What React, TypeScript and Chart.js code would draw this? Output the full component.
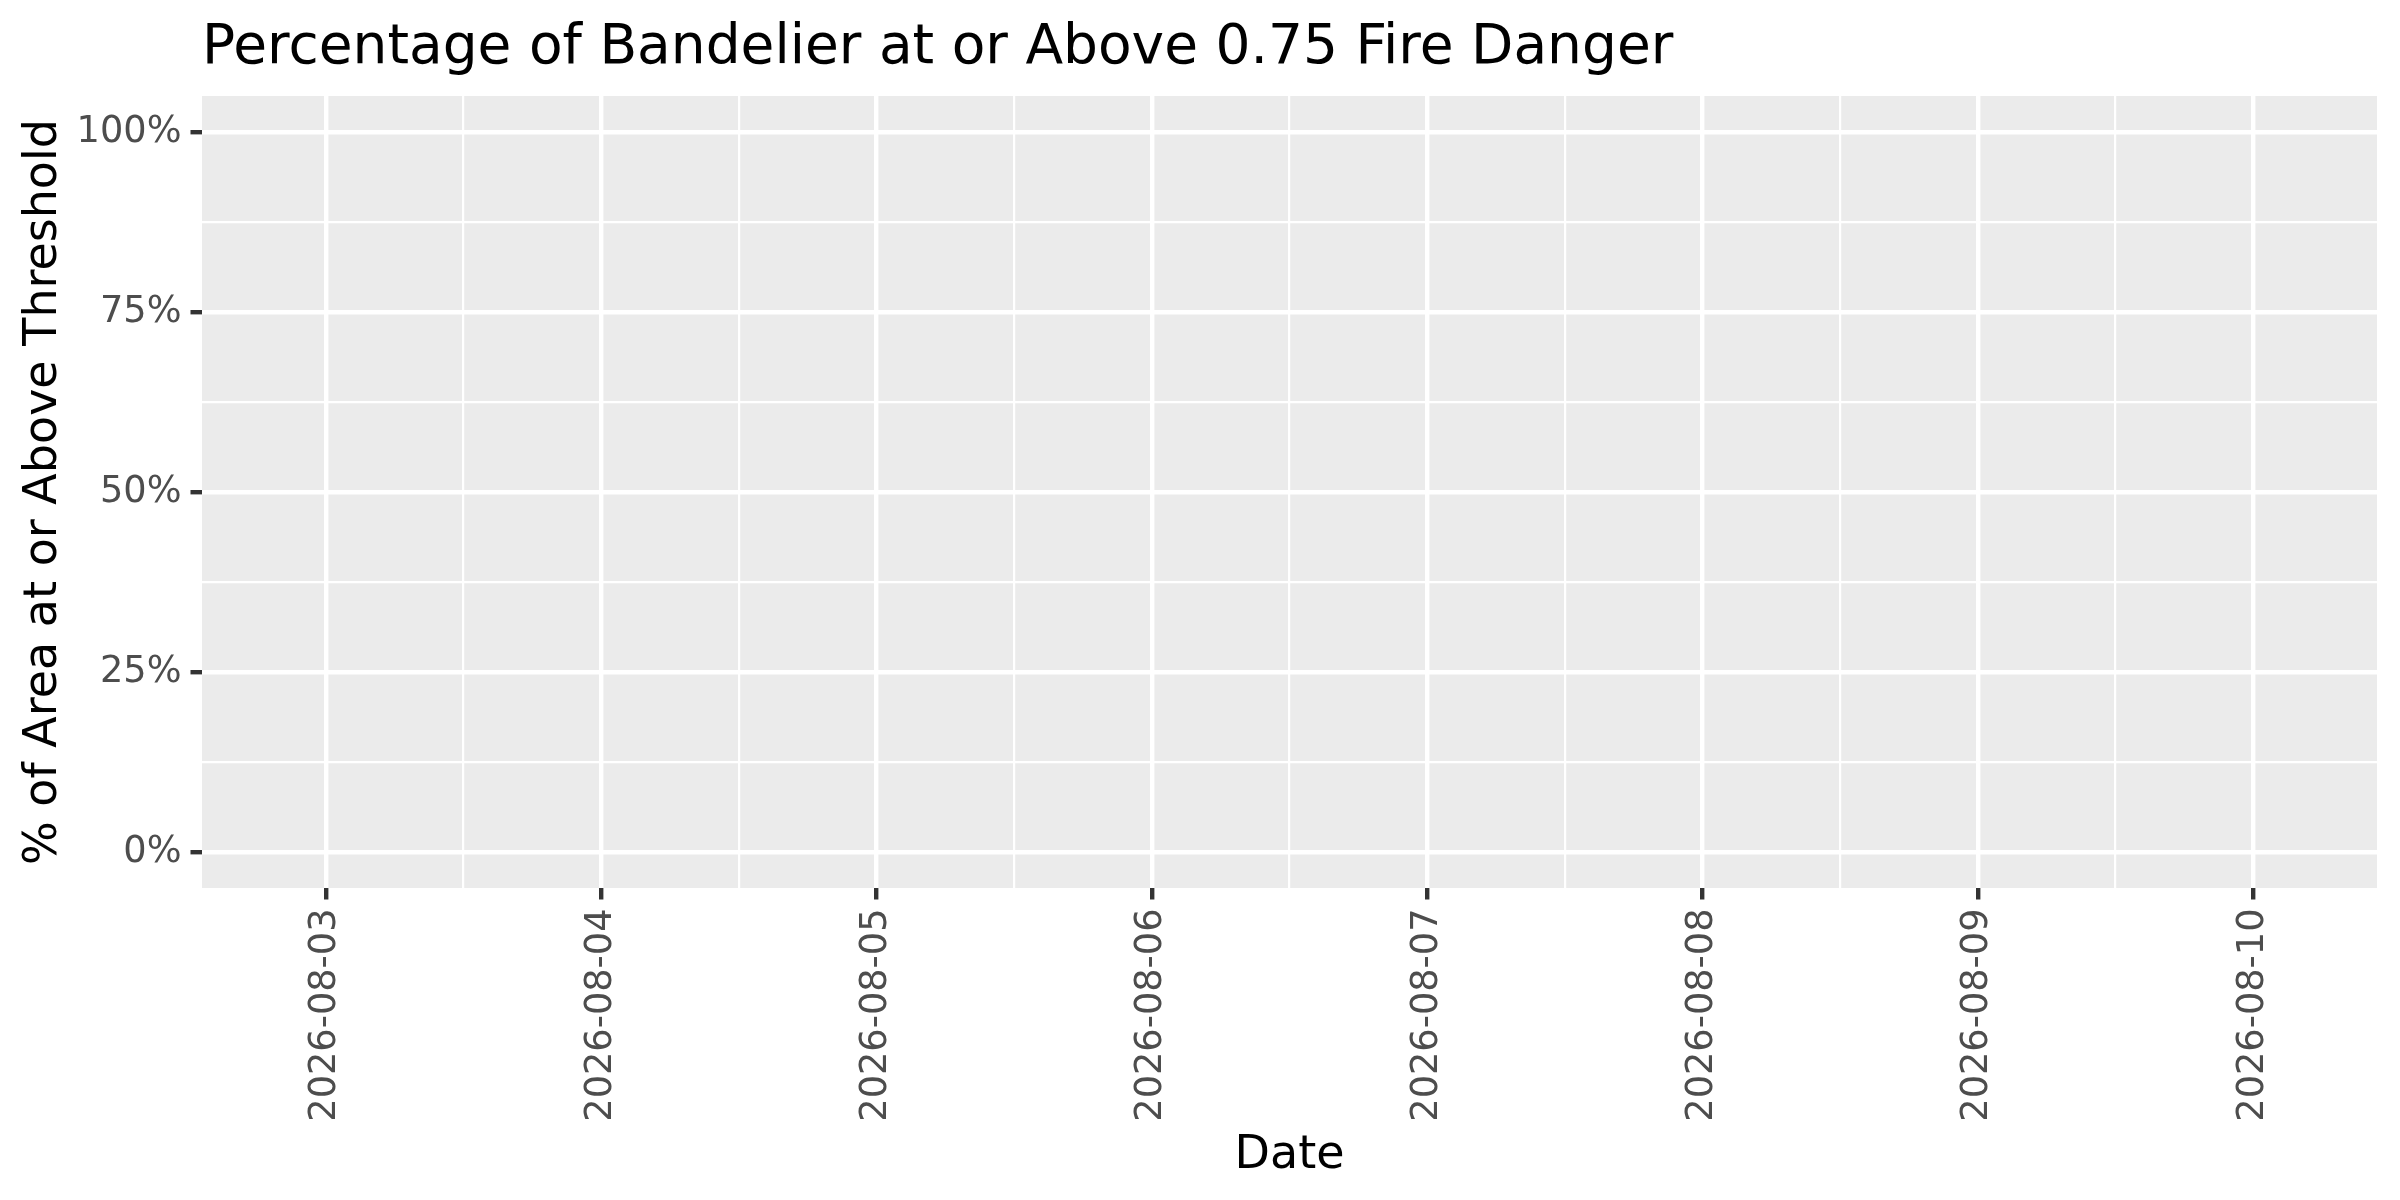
import { useEffect, useRef } from 'react';
import Chart from 'chart.js/auto';

// one value per day, share of the park at or above the 0.75 danger level
const dates = [
  '2026-08-03',
  '2026-08-04',
  '2026-08-05',
  '2026-08-06',
  '2026-08-07',
  '2026-08-08',
  '2026-08-09',
  '2026-08-10',
];
const pctAboveThreshold = [0, 0, 0, 0, 0, 0, 0, 0];
const yMajorTicks = [0, 25, 50, 75, 100];
const yMinorTicks = [12.5, 37.5, 62.5, 87.5];

const chartTitle = 'Percentage of Bandelier at or Above 0.75 Fire Danger';
const xTitle = 'Date';
const yTitle = '% of Area at or Above Threshold';

const FONT = '"DejaVu Sans", "Liberation Sans", sans-serif';

const panelPlugin = {
  id: 'panel',
  beforeDraw(chart: any) {
    const { ctx, chartArea, width, height } = chart;
    ctx.save();
    ctx.fillStyle = '#FFFFFF';
    ctx.fillRect(0, 0, width, height);
    ctx.fillStyle = '#EBEBEB';
    ctx.fillRect(chartArea.left, chartArea.top, chartArea.right - chartArea.left, chartArea.bottom - chartArea.top);
    ctx.restore();
  },
  afterDraw(chart: any) {
    const { ctx, chartArea } = chart;
    ctx.save();
    ctx.fillStyle = '#000000';
    ctx.font = `55px ${FONT}`;
    ctx.textAlign = 'left';
    ctx.textBaseline = 'alphabetic';
    ctx.fillText(chartTitle, chartArea.left, 63);
    ctx.restore();
  },
};

const App = () => {
  const chartRef = useRef<HTMLCanvasElement>(null);
  const chartInstance = useRef<Chart | null>(null);

  useEffect(() => {
    if (!chartRef.current) return;
    if (chartInstance.current) chartInstance.current.destroy();

    const isMajorX = (c: any) => c && c.tick && Number.isInteger(c.tick.value);
    const isMajorY = (c: any) => c && c.tick && yMajorTicks.includes(c.tick.value);

    chartInstance.current = new Chart(chartRef.current, {
      type: 'bar',
      data: {
        datasets: [
          {
            data: pctAboveThreshold.map((v, i) => ({ x: i, y: v })),
            backgroundColor: '#595959',
            borderWidth: 0,
          },
        ],
      },
      options: {
        animation: false,
        responsive: true,
        maintainAspectRatio: false,
        layout: { padding: { top: 96, right: 23, bottom: 0, left: 0 } },
        plugins: {
          legend: { display: false },
          title: { display: false },
          tooltip: { enabled: false },
        },
        scales: {
          x: {
            type: 'linear',
            min: -0.45,
            max: 7.45,
            offset: false,
            afterBuildTicks: (scale: any) => {
              const ticks = [];
              for (let i = 0; i < dates.length; i++) {
                ticks.push({ value: i });
                if (i < dates.length - 1) ticks.push({ value: i + 0.5 });
              }
              scale.ticks = ticks;
            },
            afterFit: (scale: any) => {
              scale.height = 312;
            },
            border: { display: false },
            grid: {
              offset: false,
              color: '#FFFFFF',
              lineWidth: (c: any) => (isMajorX(c) ? 4.4 : 2.2),
              drawTicks: true,
              tickLength: 11.5,
              tickWidth: 4.4,
              tickColor: (c: any) => (isMajorX(c) ? '#333333' : 'rgba(0,0,0,0)'),
            },
            ticks: {
              autoSkip: false,
              maxRotation: 90,
              minRotation: 90,
              padding: 9,
              color: '#4D4D4D',
              font: { family: FONT, size: 36.7, lineHeight: 1 },
              callback: (value: any) => (Number.isInteger(Number(value)) ? dates[Number(value)] : ''),
            },
            title: {
              display: true,
              text: xTitle,
              color: '#000000',
              font: { family: FONT, size: 46, lineHeight: 1 },
              padding: { top: 0, bottom: 21 },
            },
          },
          y: {
            type: 'linear',
            min: -5,
            max: 105,
            afterBuildTicks: (scale: any) => {
              scale.ticks = [...yMajorTicks, ...yMinorTicks]
                .sort((a, b) => a - b)
                .map((value) => ({ value }));
            },
            afterFit: (scale: any) => {
              scale.width = 202;
            },
            border: { display: false },
            grid: {
              color: '#FFFFFF',
              lineWidth: (c: any) => (isMajorY(c) ? 4.4 : 2.2),
              drawTicks: true,
              tickLength: 11.5,
              tickWidth: 4.4,
              tickColor: (c: any) => (isMajorY(c) ? '#333333' : 'rgba(0,0,0,0)'),
            },
            ticks: {
              autoSkip: false,
              padding: 9,
              color: '#4D4D4D',
              font: { family: FONT, size: 36.7, lineHeight: 1 },
              callback: (value: any) => (yMajorTicks.includes(Number(value)) ? `${value}%` : ''),
            },
            title: {
              display: true,
              text: yTitle,
              color: '#000000',
              font: { family: FONT, size: 46, lineHeight: 1 },
              padding: { top: 21, bottom: 0 },
            },
          },
        },
      },
      plugins: [panelPlugin],
    } as any);

    return () => {
      if (chartInstance.current) {
        chartInstance.current.destroy();
        chartInstance.current = null;
      }
    };
  }, []);

  return (
    <div style={{ position: 'absolute', left: 0, top: 0, width: 2400, height: 1200, background: '#FFFFFF' }}>
      <canvas ref={chartRef} />
    </div>
  );
};

export default App;
